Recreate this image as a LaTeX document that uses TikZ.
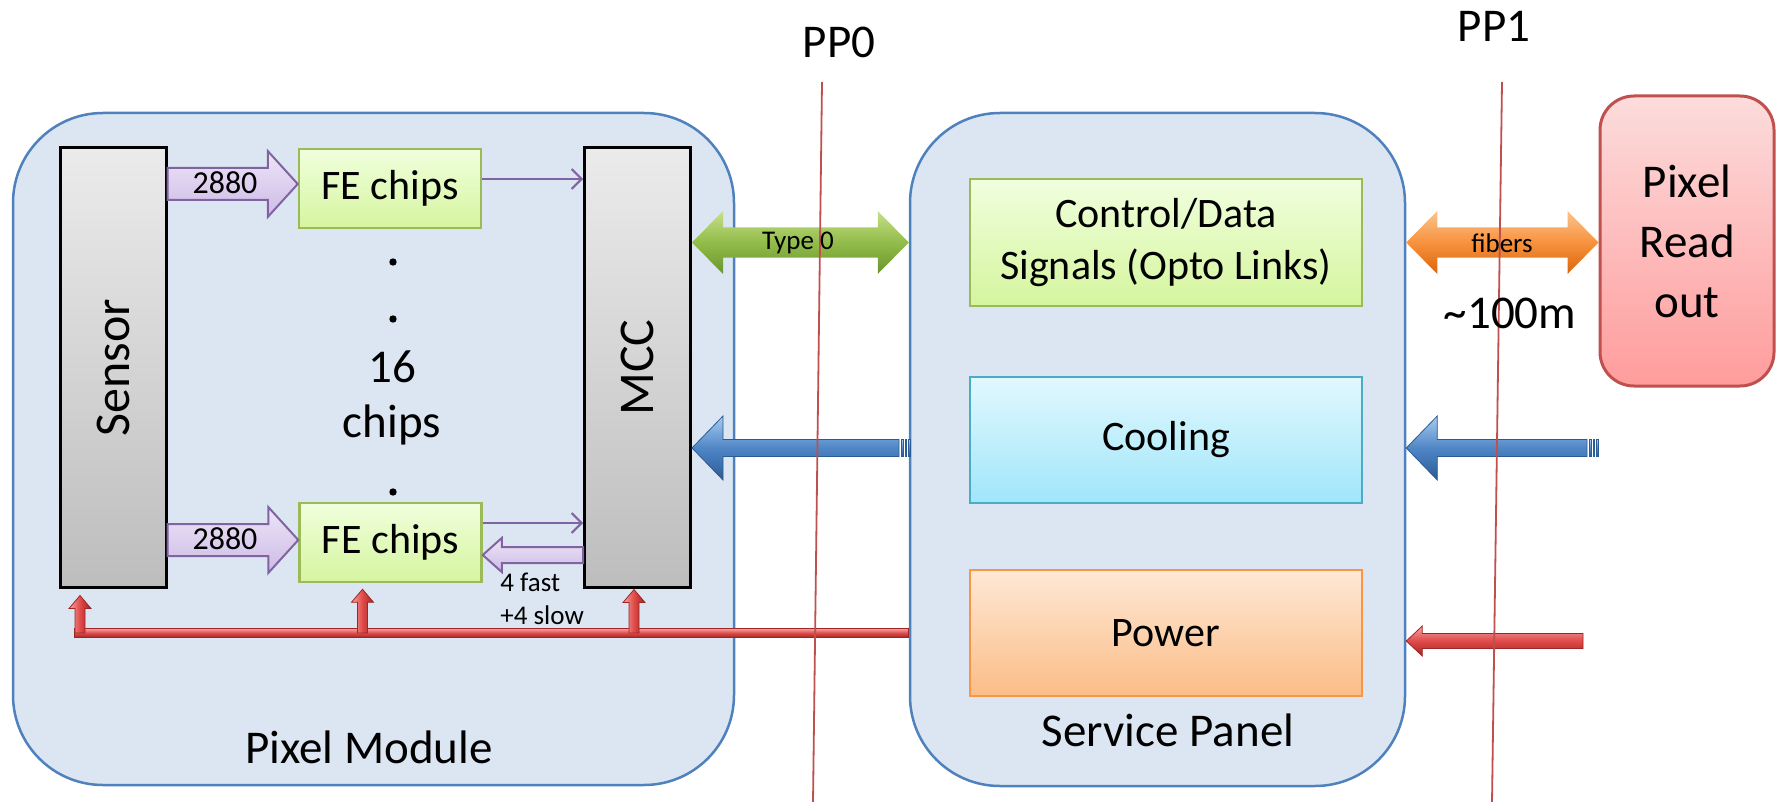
\documentclass[tikz,border=0pt]{standalone}
\usepackage{fontspec}
\setmainfont{Carlito}
\usetikzlibrary{calc,arrows.meta}

\definecolor{panelfill}{HTML}{DCE6F2}
\definecolor{panelline}{HTML}{4F81BD}
\definecolor{ppred}{HTML}{C0504D}
\definecolor{barTop}{HTML}{EBEBEB}
\definecolor{barBot}{HTML}{BDBDBD}
\definecolor{grnLine}{HTML}{9BBB59}
\definecolor{grnTop}{HTML}{F0FFDD}
\definecolor{grnBot}{HTML}{D5F59E}
\definecolor{cyanLine}{HTML}{4BACC6}
\definecolor{cyanTop}{HTML}{E2F8FE}
\definecolor{cyanBot}{HTML}{A0E6FA}
\definecolor{orgLine}{HTML}{F79646}
\definecolor{orgTop}{HTML}{FEE8D6}
\definecolor{orgBot}{HTML}{FBBD86}
\definecolor{rdTop}{HTML}{FCDCDC}
\definecolor{rdBot}{HTML}{FF9C9C}
\definecolor{purLine}{HTML}{8064A2}
\definecolor{purTop}{HTML}{EDE5F7}
\definecolor{purBot}{HTML}{CDBBE6}
\definecolor{grnA}{HTML}{C6E08A}
\definecolor{grnB}{HTML}{92BC4A}
\definecolor{grnC}{HTML}{6A952C}
\definecolor{ornA}{HTML}{FBC48E}
\definecolor{ornB}{HTML}{F7923E}
\definecolor{ornC}{HTML}{D9650C}
\definecolor{bluA}{HTML}{A8CBEF}
\definecolor{bluB}{HTML}{4F86C6}
\definecolor{bluC}{HTML}{2B5B95}
\definecolor{redA}{HTML}{F6A3A3}
\definecolor{redB}{HTML}{E04A48}
\definecolor{redC}{HTML}{9E2624}

% horizontal block arrow: tail, tip, half shaft, half head, head length (negative when pointing left), style
\newcommand\hblock[6]{%
  \path[#6] let \p1=(#1), \p2=(#2) in
    (\x1,{\y2+#3}) -- ({\x2-(#5)},{\y2+#3}) -- ({\x2-(#5)},{\y2+#4}) -- (\x2,\y2)
    -- ({\x2-(#5)},{\y2-#4}) -- ({\x2-(#5)},{\y2-#3}) -- (\x1,{\y2-#3}) -- cycle;}
% double headed block arrow: left tip, right tip, half shaft, half head, head length, style
\newcommand\dblock[6]{%
  \path[#6] let \p1=(#1), \p2=(#2) in
    (\x1,\y1) -- ({\x1+#5},{\y1+#4}) -- ({\x1+#5},{\y1+#3}) -- ({\x2-#5},{\y1+#3})
    -- ({\x2-#5},{\y1+#4}) -- (\x2,\y1) -- ({\x2-#5},{\y1-#4}) -- ({\x2-#5},{\y1-#3})
    -- ({\x1+#5},{\y1-#3}) -- ({\x1+#5},{\y1-#4}) -- cycle;}
% upward block arrow: tail, tip, half shaft, half head, head length, style
\newcommand\vblock[6]{%
  \path[#6] let \p1=(#1), \p2=(#2) in
    ({\x2-#3},\y1) -- ({\x2-#3},{\y2-(#5)}) -- ({\x2-#4},{\y2-(#5)}) -- (\x2,\y2)
    -- ({\x2+#4},{\y2-(#5)}) -- ({\x2+#3},{\y2-(#5)}) -- ({\x2+#3},\y1) -- cycle;}
% three thin bars behind the tail of a pipe: tail point, direction (+1 right, -1 left), half height
\newcommand\pipeend[3]{%
  \foreach \k in {1.75,3.5,5.25}{
    \path[bluearrow] let \p1=(#1) in
      ({\x1+#2*\k pt-0.4pt},{\y1+#3}) rectangle ({\x1+#2*\k pt+0.4pt},{\y1-#3});}}

\tikzset{
  panel/.style={draw=panelline, line width=1.25pt, fill=panelfill, rounded corners=45pt, inner sep=0pt},
  bar/.style={draw=black, line width=1.5pt, top color=barTop, bottom color=barBot,
    minimum width=53pt, minimum height=219.5pt, inner sep=0pt},
  febox/.style={draw=grnLine, line width=1.25pt, top color=grnTop, bottom color=grnBot,
    minimum width=91pt, minimum height=39.5pt, inner sep=0pt},
  svcbox/.style={line width=1.25pt, minimum width=196pt, minimum height=63pt, inner sep=0pt, align=center},
  txtbar/.style={font=\fontsize{25}{30}\selectfont, inner sep=0pt},
  txtbig/.style={font=\fontsize{23.5}{29}\selectfont, inner sep=0pt},
  txtmid/.style={font=\fontsize{21}{26}\selectfont, inner sep=0pt},
  txtnum/.style={font=\fontsize{16}{19}\selectfont, inner sep=0pt},
  txtsmall/.style={font=\fontsize{13.5}{16}\selectfont, inner sep=0pt},
  thinarrow/.style={draw=purLine, line width=1pt, -{Straight Barb[length=5pt,width=10pt]}},
  purarrow/.style={draw=purLine, line width=1pt, top color=purTop, bottom color=purBot},
  greenarrow/.style={top color=grnA, bottom color=grnC, middle color=grnB},
  orangearrow/.style={top color=ornA, bottom color=ornC, middle color=ornB},
  bluearrow/.style={draw=bluC, line width=0.4pt, top color=bluA, bottom color=bluC, middle color=bluB},
  redarrow/.style={draw=redC, line width=0.4pt, top color=redA, bottom color=redC, middle color=redB},
  redup/.style={draw=redC, line width=0.4pt, left color=redA, right color=redC, middle color=redB},
  ppline/.style={draw=ppred, line width=0.9pt},
  dot/.style={circle, fill=black, inner sep=0pt, minimum size=3.7pt},
}

\begin{document}
\begin{tikzpicture}[x=0.5pt,y=-0.5pt]
\useasboundingbox (0,0) rectangle (1776,802);

% the two panels
\node[panel, minimum width=360.5pt, minimum height=336pt] (pm) at (373.5,449) {};
\node[panel, minimum width=247.5pt, minimum height=336.5pt] (sp) at (1157.5,449.5) {};

% pixel module parts
\node[bar] (sensor) at (113,367.5) {};
\node[bar] (mcc) at (637.5,367.5) {};
\node[febox] (fe1) at (390,188.5) {};
\node[febox] (fe2) at (390.5,542.5) {};

% service panel parts
\node[svcbox, draw=grnLine, top color=grnTop, bottom color=grnBot, minimum height=63.5pt] (ctrl) at (1166,242.5) {};
\node[svcbox, draw=cyanLine, top color=cyanTop, bottom color=cyanBot] (cool) at (1166,440) {};
\node[svcbox, draw=orgLine, top color=orgTop, bottom color=orgBot] (power) at (1166,633) {};

% off-detector readout
\node[draw=ppred, line width=1.5pt, top color=rdTop, bottom color=rdBot, rounded corners=17pt,
      minimum width=87pt, minimum height=145pt, inner sep=0pt] (readout) at (1687,241) {};

% attachment points of the links
\coordinate (fe1in) at ([yshift=2.25pt]fe1.west);
\coordinate (fe2in) at ([yshift=1.25pt]fe2.west);
\coordinate (fe1out) at ([yshift=4.75pt]fe1.east);
\coordinate (fe2out) at ([yshift=9.75pt]fe2.east);
\coordinate (fe2cmd) at ([yshift=-6.25pt]fe2.east);
\coordinate (coolin) at (1587,448);
\coordinate (coolout) at (899,448);
\coordinate (powin) at (1583,641);
\coordinate (pbus) at (74,633);
\coordinate (tipS) at ([xshift=-16.5pt,yshift=-3.5pt]sensor.south);
\coordinate (tipF) at ([xshift=-14pt,yshift=-3pt]fe2.south);
\coordinate (tipM) at ([xshift=-1.75pt,yshift=-0.5pt]mcc.south);

% sensor -> FE data arrows
\hblock{sensor.east |- fe1in}{fe1in}{8pt}{16.5pt}{15pt}{purarrow}
\hblock{sensor.east |- fe2in}{fe2in}{8pt}{16.5pt}{15pt}{purarrow}

% FE <-> MCC links
\draw[thinarrow] (fe1out) -- (fe1out -| mcc.west);
\draw[thinarrow] (fe2out) -- (fe2out -| mcc.west);
\hblock{fe2cmd -| mcc.west}{fe2cmd}{4pt}{8.5pt}{-9.5pt}{purarrow}

% Type 0 cable and fibers
\dblock{mcc.east |- ctrl}{sp.west |- ctrl}{7.5pt}{15.75pt}{15.5pt}{greenarrow}
\dblock{sp.east |- ctrl}{readout.west |- ctrl}{7.5pt}{15.75pt}{15.5pt}{orangearrow}

% cooling
\hblock{coolout}{mcc.east |- coolout}{4.25pt}{16pt}{-15.5pt}{bluearrow}
\pipeend{coolout}{1}{4.25pt}
\hblock{coolin}{sp.east |- coolin}{4.25pt}{16pt}{-15.5pt}{bluearrow}
\pipeend{coolin}{1}{4.25pt}

% power
\hblock{powin}{sp.east |- powin}{3.75pt}{7.5pt}{-8pt}{redarrow}
\path[redarrow] let \p1=(pbus), \p2=(sp.west |- pbus) in
  (\x1,{\y1+2.25pt}) rectangle (\x2,{\y1-2.25pt});
\foreach \t in {tipS,tipF,tipM}{
  \vblock{\t |- pbus}{\t}{2.5pt}{5.5pt}{6.5pt}{redup}
}

% patch panel planes
\coordinate (pp0top) at (822,82);
\coordinate (pp0bot) at (813,802);
\coordinate (pp1top) at (1502,82);
\coordinate (pp1bot) at (1492,802);
\draw[ppline] (pp0top) -- (pp0bot);
\draw[ppline] (pp1top) -- (pp1bot);

% texts
\node[txtbig] (pp0) at (839,42) {PP0};
\node[txtbig] (pp1) at (1494,26) {PP1};
\node[txtbar, rotate=90] (sensorlbl) at (sensor.center) {Sensor};
\node[txtbar, rotate=90] (mcclbl) at (mcc.center) {MCC};
\node[txtmid] (fe1lbl) at (fe1.center) {FE chips};
\node[txtmid] (fe2lbl) at (fe2.center) {FE chips};
\node[txtnum] (n2880a) at (225,183) {2880};
\node[txtnum] (n2880b) at (225,539) {2880};
\node[dot] (d1) at (393,262) {};
\node[dot] (d2) at (393,319) {};
\node[dot] (d3) at (393,492) {};
\node[txtbig, anchor=base] (n16) at (392,382) {16};
\node[txtbig, anchor=base] (nchips) at (392,437) {chips};
\node[txtsmall, anchor=west] (fast) at (500,582) {4 fast};
\node[txtsmall, anchor=west] (slow) at (500,615) {+4 slow};
\node[txtbig] (pmlbl) at (369,747) {Pixel Module};
\node[txtbig] (splbl) at (1168,730) {Service Panel};
\node[txtmid, align=center] (ctrllbl) at (ctrl.center) {Control/Data\\Signals (Opto Links)};
\node[txtmid] (coollbl) at (cool.center) {Cooling};
\node[txtmid] (powlbl) at (power.center) {Power};
\node[txtsmall] (type0) at (798,243) {Type 0};
\node[txtsmall] (fibers) at (1502,243) {fibers};
\node[txtbig] (dist) at (1510,313) {\char`\~100m};
\node[txtbig, align=center, font=\fontsize{23.5}{30}\selectfont] (rolbl) at (readout.center) {Pixel\\Read\\out};
\end{tikzpicture}
\end{document}
